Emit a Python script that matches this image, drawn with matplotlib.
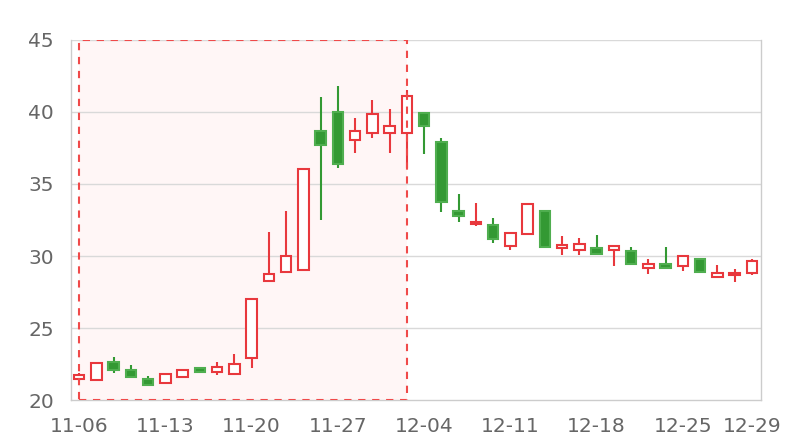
import matplotlib
matplotlib.use('Agg')
import matplotlib.pyplot as plt
from matplotlib.patches import Rectangle

dates = ['11-06', '11-07', '11-08', '11-09', '11-10',
         '11-13', '11-14', '11-15', '11-16', '11-17',
         '11-20', '11-21', '11-22', '11-23', '11-24',
         '11-27', '11-28', '11-29', '11-30', '12-01',
         '12-04', '12-05', '12-06', '12-07', '12-08',
         '12-11', '12-12', '12-13', '12-14', '12-15',
         '12-18', '12-19', '12-20', '12-21', '12-22',
         '12-25', '12-26', '12-27', '12-28', '12-29']

opens = [21.46, 21.37, 22.65, 22.07, 21.44, 21.18, 21.60, 22.21, 21.95, 21.83,
         22.90, 28.27, 28.89, 29.05, 38.69, 40.01, 38.06, 38.57, 38.55, 38.57,
         39.92, 37.94, 33.11, 32.24, 32.14, 30.72, 31.56, 33.11, 30.54, 30.42,
         30.56, 30.40, 30.38, 29.19, 29.47, 29.33, 29.80, 28.57, 28.70, 28.80]
closes = [21.74, 22.60, 22.07, 21.60, 21.04, 21.79, 22.11, 21.93, 22.28, 22.53,
          27.01, 28.77, 30.03, 36.02, 37.69, 36.41, 38.69, 39.87, 39.01, 41.08,
          39.03, 33.74, 32.76, 32.35, 31.19, 31.63, 33.63, 30.61, 30.79, 30.84,
          30.17, 30.70, 29.45, 29.42, 29.17, 29.98, 28.86, 28.80, 28.84, 29.68]
highs = [21.86, 22.67, 22.99, 22.41, 21.65, 21.80, 22.11, 22.30, 22.62, 23.18,
         27.01, 31.68, 33.11, 36.02, 41.01, 41.82, 39.61, 40.84, 40.22, 41.52,
         39.95, 38.22, 34.28, 33.65, 32.65, 31.63, 33.63, 33.11, 31.37, 31.23,
         31.49, 30.77, 30.61, 29.80, 30.63, 29.98, 29.87, 29.38, 29.10, 29.80]
lows = [21.32, 21.37, 21.90, 21.58, 21.00, 21.18, 21.60, 21.88, 21.72, 21.83,
        22.25, 28.27, 28.89, 29.05, 32.47, 36.14, 37.18, 38.22, 37.18, 36.14,
        37.06, 33.04, 32.35, 32.07, 30.91, 30.45, 31.56, 30.61, 30.10, 30.10,
        30.15, 29.28, 29.45, 28.77, 29.10, 28.93, 28.86, 28.57, 28.17, 28.66]

# highlighted range (first to last index of the marked area)
mark_start, mark_end = 0, 19
tick_idx = [0, 5, 10, 15, 20, 25, 30, 35, 39]

red = '#e8383d'
green = '#339933'
grid_col = '#d9d9d9'

fig = plt.figure(figsize=(8, 4.4), dpi=100)
ax = fig.add_axes([70.5 / 800, 40 / 440, 690 / 800, 360 / 440])

ax.set_xlim(-0.5, len(dates) - 0.5)
ax.set_ylim(20, 45)

# mark area
ax.add_patch(Rectangle((mark_start, 20), mark_end - mark_start, 25,
                       facecolor='#fff6f6', edgecolor='none', zorder=0))
ax.add_patch(Rectangle((mark_start, 20), mark_end - mark_start, 25,
                       facecolor='none', edgecolor='#f04a4a', linewidth=1.5,
                       linestyle=(0, (3.5, 3.2)), zorder=4))

for y in [25, 30, 35, 40, 45]:
    ax.axhline(y, color=grid_col, linewidth=1, zorder=1)

w = 0.62
for i in range(len(dates)):
    o, c, h, l = opens[i], closes[i], highs[i], lows[i]
    lo, hi = min(o, c), max(o, c)
    if c >= o:
        col = red
        face = 'white'
        edge = red
    else:
        col = green
        face = green
        edge = '#4fae4f'
    ax.plot([i, i], [l, h], color=col, linewidth=1.5, solid_capstyle='butt', zorder=2)
    ax.add_patch(Rectangle((i - w / 2, lo), w, max(hi - lo, 0.06),
                           facecolor=face, edgecolor=edge, linewidth=1.5, zorder=3))

for side in ['left', 'right', 'bottom']:
    ax.spines[side].set_color('#cccccc')
    ax.spines[side].set_linewidth(1)
ax.spines['top'].set_visible(False)

ax.set_yticks([20, 25, 30, 35, 40, 45])
ax.set_xticks(tick_idx)
ax.set_xticklabels([dates[i] for i in tick_idx])
ax.tick_params(axis='both', length=0, labelsize=14.5, labelcolor='#666666')
ax.tick_params(axis='y', pad=12)
ax.tick_params(axis='x', pad=12)

fig.savefig('out.png', dpi=100)
